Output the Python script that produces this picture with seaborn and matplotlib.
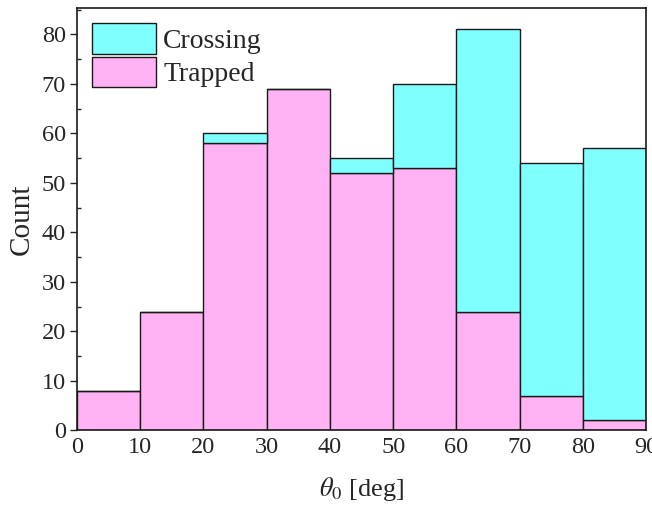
import numpy as np
import pandas as pd
import matplotlib
matplotlib.use("Agg")
import matplotlib.pyplot as plt
import seaborn as sns
from matplotlib.patches import Patch
from matplotlib.ticker import MultipleLocator

# bins of theta_0 (deg)
bin_edges = [0, 10, 20, 30, 40, 50, 60, 70, 80, 90]
bin_centers = [5, 15, 25, 35, 45, 55, 65, 75, 85]
trapped = [8, 24, 58, 69, 52, 53, 24, 7, 2]
crossing = [0, 0, 2, 0, 3, 17, 57, 47, 55]
labels = ["Crossing", "Trapped"]
colors = {"Crossing": "#80FFFF", "Trapped": "#FFB3F5"}

df = pd.DataFrame({
    "theta": bin_centers * 2,
    "count": crossing + trapped,
    "type": ["Crossing"] * len(crossing) + ["Trapped"] * len(trapped),
})

sns.set_style("ticks")
plt.rcParams["font.family"] = ["Liberation Serif", "DejaVu Serif"]
plt.rcParams["mathtext.fontset"] = "stix"

fig, ax = plt.subplots(figsize=(6.52, 5.11), dpi=100)
sns.histplot(data=df, x="theta", weights="count", hue="type", hue_order=labels,
             multiple="stack", bins=bin_edges, palette=colors, alpha=1,
             edgecolor="#1a1a1a", linewidth=1, legend=False, ax=ax)

ax.set_xlim(0, 90)
ax.set_ylim(0, 85.3)
ax.xaxis.set_major_locator(MultipleLocator(10))
ax.yaxis.set_major_locator(MultipleLocator(10))
ax.yaxis.set_minor_locator(MultipleLocator(5))
ax.tick_params(axis="x", length=0, labelsize=17.5, pad=5)
ax.tick_params(axis="y", which="major", length=5, width=1, labelsize=17.5, pad=3)
ax.tick_params(axis="y", which="minor", length=3, width=1, direction="in")
for s in ax.spines.values():
    s.set_linewidth(1.2)
    s.set_color("#1a1a1a")

ax.set_xlabel(r"$\theta_0$ [deg]", fontsize=19, labelpad=12)
ax.set_ylabel("Count", fontsize=21, labelpad=5)

handles = [Patch(facecolor=colors[l], edgecolor="#1a1a1a", linewidth=1, label=l) for l in labels]
ax.legend(handles=handles, loc="upper left", fontsize=20, frameon=False,
          handlelength=2.3, handleheight=1.3, handletextpad=0.25,
          labelspacing=0.1, borderaxespad=0.1, borderpad=0.45)

fig.subplots_adjust(left=0.118, right=0.991, top=0.984, bottom=0.158)
fig.savefig("out.png", dpi=100)
